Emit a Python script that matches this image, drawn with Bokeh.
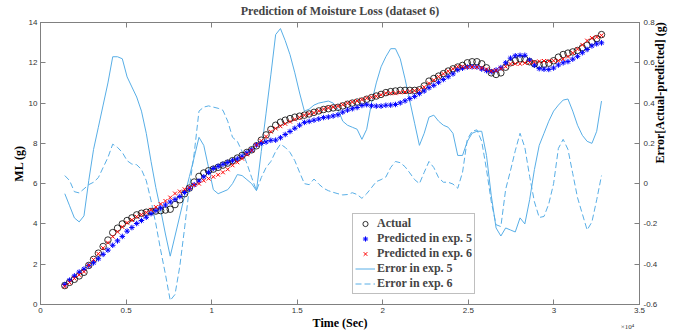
import numpy as np
from bokeh.plotting import figure
from bokeh.models import (Range1d, LinearAxis, FixedTicker, Legend, LegendItem,
                          CustomLabelingPolicy)
from bokeh.embed import file_html
from bokeh.resources import INLINE

# ---------------- data ----------------
time_s = list(range(1420, 32781, 280))  # sampling grid (s)

actual = [0.94, 1.10, 1.25, 1.42, 1.60, 1.94, 2.24, 2.55, 2.88, 3.20,
          3.57, 3.79, 4.00, 4.17, 4.30, 4.45, 4.53, 4.58, 4.62, 4.64,
          4.66, 4.69, 4.73, 4.96, 5.20, 5.50, 5.78, 6.08, 6.36, 6.53,
          6.64, 6.72, 6.81, 6.92, 7.02, 7.14, 7.27, 7.40, 7.55, 7.68,
          7.88, 8.16, 8.42, 8.69, 8.90, 9.05, 9.15, 9.23, 9.30, 9.35,
          9.40, 9.46, 9.54, 9.61, 9.68, 9.72, 9.76, 9.79, 9.86, 9.94,
          10.00, 10.05, 10.10, 10.19, 10.27, 10.35, 10.43, 10.52, 10.57, 10.60,
          10.63, 10.63, 10.63, 10.63, 10.66, 10.85, 11.09, 11.22, 11.34, 11.46,
          11.59, 11.70, 11.79, 11.87, 12.00, 12.05, 12.05, 11.95, 11.75, 11.50,
          11.42, 11.50, 11.78, 12.00, 12.11, 12.20, 12.17, 12.05, 11.95, 11.90,
          11.93, 11.98, 12.10, 12.28, 12.41, 12.48, 12.54, 12.61, 12.74, 12.87,
          13.04, 13.20, 13.40]

pred_exp5 = [0.99, 1.21, 1.42, 1.61, 1.76, 1.93, 2.07, 2.27, 2.49, 2.70,
             2.94, 3.16, 3.38, 3.64, 3.82, 4.02, 4.17, 4.33, 4.51, 4.66,
             4.79, 4.94, 5.09, 5.22, 5.36, 5.56, 5.75, 5.95, 6.13, 6.34,
             6.56, 6.75, 6.86, 6.96, 7.05, 7.14, 7.23, 7.36, 7.53, 7.68,
             7.92, 8.00, 8.07, 8.15, 8.16, 8.28, 8.44, 8.59, 8.75, 8.90,
             9.04, 9.09, 9.15, 9.21, 9.28, 9.31, 9.36, 9.42, 9.55, 9.65,
             9.72, 9.78, 9.88, 9.92, 9.87, 9.85, 9.85, 9.89, 9.90, 9.93,
             10.01, 10.11, 10.22, 10.33, 10.47, 10.60, 10.76, 10.88, 11.03, 11.17,
             11.31, 11.45, 11.65, 11.73, 11.79, 11.80, 11.79, 11.69, 11.61, 11.56,
             11.64, 11.76, 12.00, 12.23, 12.35, 12.37, 12.37, 12.13, 11.88, 11.71,
             11.68, 11.67, 11.74, 11.89, 12.00, 12.06, 12.18, 12.32, 12.50, 12.66,
             12.84, 12.94, 12.99]

pred_exp6 = [0.90, 1.09, 1.29, 1.47, 1.63, 1.95, 2.23, 2.52, 2.80, 3.07,
             3.37, 3.61, 3.85, 4.06, 4.20, 4.36, 4.46, 4.57, 4.70, 4.84,
             4.99, 5.14, 5.31, 5.51, 5.61, 5.72, 5.80, 5.93, 6.00, 6.15,
             6.25, 6.34, 6.44, 6.56, 6.71, 6.91, 7.06, 7.24, 7.45, 7.65,
             7.92, 8.13, 8.34, 8.58, 8.74, 8.85, 8.97, 9.08, 9.19, 9.29,
             9.40, 9.47, 9.52, 9.61, 9.70, 9.76, 9.80, 9.84, 9.92, 9.99,
             10.05, 10.10, 10.17, 10.24, 10.29, 10.34, 10.41, 10.49, 10.49, 10.49,
             10.53, 10.55, 10.58, 10.61, 10.66, 10.79, 10.98, 11.14, 11.31, 11.45,
             11.58, 11.70, 11.81, 11.81, 11.78, 11.79, 11.78, 11.74, 11.68, 11.59,
             11.62, 11.71, 11.81, 11.94, 11.95, 11.95, 11.99, 12.01, 12.04, 12.07,
             12.09, 12.08, 12.10, 12.10, 12.19, 12.31, 12.49, 12.68, 12.89, 13.10,
             13.23, 13.28, 13.36]

error_exp5 = [-0.05, -0.11, -0.17, -0.19, -0.16, 0.015, 0.17, 0.28, 0.39, 0.50,
              0.63, 0.63, 0.62, 0.53, 0.48, 0.43, 0.36, 0.25, 0.11, -0.02,
              -0.13, -0.25, -0.36, -0.26, -0.16, -0.06, 0.035, 0.13, 0.23, 0.19,
              0.08, -0.03, -0.05, -0.04, -0.03, 0.0, 0.045, 0.04, 0.02, 0.0,
              -0.035, 0.16, 0.35, 0.54, 0.74, 0.77, 0.71, 0.64, 0.55, 0.45,
              0.36, 0.37, 0.39, 0.40, 0.405, 0.41, 0.40, 0.37, 0.31, 0.29,
              0.28, 0.27, 0.22, 0.27, 0.40, 0.50, 0.58, 0.63, 0.67, 0.67,
              0.62, 0.52, 0.41, 0.30, 0.19, 0.25, 0.33, 0.34, 0.31, 0.29,
              0.28, 0.25, 0.14, 0.14, 0.21, 0.25, 0.26, 0.26, 0.14, -0.06,
              -0.22, -0.26, -0.22, -0.23, -0.24, -0.17, -0.20, -0.08, 0.07, 0.19,
              0.25, 0.31, 0.36, 0.39, 0.415, 0.42, 0.36, 0.29, 0.24, 0.21,
              0.20, 0.26, 0.41]

error_exp6 = [0.04, 0.015, -0.04, -0.046, -0.026, -0.005, 0.007, 0.03, 0.08, 0.13,
              0.196, 0.18, 0.155, 0.114, 0.097, 0.094, 0.07, 0.015, -0.084, -0.20,
              -0.33, -0.45, -0.58, -0.55, -0.41, -0.22, -0.02, 0.15, 0.36, 0.38,
              0.386, 0.38, 0.374, 0.364, 0.31, 0.23, 0.21, 0.16, 0.10, 0.03,
              -0.035, 0.03, 0.08, 0.11, 0.16, 0.196, 0.18, 0.155, 0.114, 0.056,
              0.0, -0.005, 0.023, -0.002, -0.023, -0.035, -0.043, -0.05, -0.056, -0.054,
              -0.045, -0.054, -0.073, -0.05, -0.02, 0.01, 0.02, 0.033, 0.08, 0.11,
              0.104, 0.084, 0.053, 0.02, 0.0, 0.056, 0.11, 0.08, 0.03, 0.007,
              0.007, -0.002, -0.023, 0.056, 0.22, 0.26, 0.267, 0.21, 0.07, -0.09,
              -0.204, -0.213, -0.028, 0.064, 0.163, 0.25, 0.18, 0.036, -0.09, -0.168,
              -0.163, -0.10, 0.0, 0.175, 0.22, 0.17, 0.05, -0.07, -0.15, -0.23,
              -0.19, -0.08, 0.04]

x_ticks = [0, 5000, 10000, 15000, 20000, 25000, 30000, 35000]
x_tick_labels = ["0", "0.5", "1", "1.5", "2", "2.5", "3", "3.5"]
ml_ticks = [0, 2, 4, 6, 8, 10, 12, 14]
err_ticks = [-0.6, -0.4, -0.2, 0, 0.2, 0.4, 0.6, 0.8]
err_tick_labels = ["-0.6", "-0.4", "-0.2", "0", "0.2", "0.4", "0.6", "0.8"]
x_exponent = "\u00d710\u2074"

# ---------------- styling ----------------
SERIF = "Liberation Serif"
SANS = "Liberation Sans"
AXIS_GRAY = "#808080"
TICK_TEXT = "#333333"
ERR_BLUE = "#58aee6"

X_END = 35000
p = figure(width=681, height=333, output_backend="svg", toolbar_location=None,
           x_range=Range1d(0, X_END), y_range=Range1d(0, 14),
           min_border_left=40, min_border_right=42, min_border_top=21,
           min_border_bottom=29)
p.extra_y_ranges = {"err": Range1d(-0.6, 0.8)}

p.title.text = "Prediction of Moisture Loss (dataset 6)"
p.title.align = "center"
p.title.text_font = SERIF
p.title.text_font_style = "bold"
p.title.text_font_size = "12px"
p.title.standoff = 2
p.title.offset = 0

p.xgrid.visible = False
p.ygrid.visible = False
p.outline_line_color = AXIS_GRAY
p.outline_line_width = 1
p.background_fill_color = "white"
p.border_fill_color = "white"

# bottom axis
xa = p.xaxis[0]
xa.ticker = FixedTicker(ticks=x_ticks)
xa.major_label_overrides = dict(zip(x_ticks, x_tick_labels))
xa.axis_label = "Time (Sec)"
xa.axis_label_standoff = 0
xa.major_label_standoff = 3

# left axis
ya = p.yaxis[0]
ya.ticker = FixedTicker(ticks=ml_ticks)
ya.axis_label = "ML (g)"
ya.axis_label_standoff = 0
ya.major_label_standoff = 3

# top axis: inward ticks only, its labels are filtered out
top_axis = LinearAxis(ticker=FixedTicker(ticks=x_ticks),
                      major_label_text_font_size="1px", major_label_standoff=0,
                      major_label_policy=CustomLabelingPolicy(
                          code="for (const i of indices) indices.unset(i)"))
p.add_layout(top_axis, "above")

# right axis
right_axis = LinearAxis(y_range_name="err", ticker=FixedTicker(ticks=err_ticks))
right_axis.major_label_overrides = dict(zip(err_ticks, err_tick_labels))
right_axis.major_label_standoff = 4
right_axis.axis_label = "Error[Actual-predicted] (g)"
right_axis.axis_label_standoff = 0
if "axis_label_orientation" in right_axis.properties():
    right_axis.axis_label_orientation = float(np.pi / 2)
p.add_layout(right_axis, "right")

for ax in [xa, ya, top_axis, right_axis]:
    ax.major_tick_in = 5
    ax.major_tick_out = 0
    ax.minor_tick_line_color = None
    ax.axis_line_color = AXIS_GRAY
    ax.major_tick_line_color = AXIS_GRAY
    ax.major_label_text_font = SANS
    ax.axis_label_text_font = SERIF
    ax.axis_label_text_font_style = "bold"
    ax.axis_label_text_font_size = "12px"
    ax.axis_label_text_color = "black"
for ax in [xa, ya, right_axis]:
    ax.major_label_text_font_size = "8px"
    ax.major_label_text_color = TICK_TEXT

# x exponent under the right end of the x axis (overlay level: not clipped)
p.text(x=[X_END], y=[0], text=[x_exponent], x_offset=-12, y_offset=22,
       text_align="center", text_baseline="middle", text_font=SANS,
       text_font_size="7px", text_color=TICK_TEXT, level="overlay")

# ---------------- glyphs ----------------
r_e5 = p.line(time_s, error_exp5, y_range_name="err", line_color=ERR_BLUE,
              line_width=1)
r_e6 = p.line(time_s, error_exp6, y_range_name="err", line_color=ERR_BLUE,
              line_width=1, line_dash="6 3")
r_act = p.scatter(time_s, actual, marker="circle", size=6.5, fill_color=None,
                  line_color="black", line_width=0.8)
r_p5 = p.scatter(time_s, pred_exp5, marker="asterisk", size=5.5,
                 line_color="#0000ff", line_width=1)
r_p6 = p.scatter(time_s, pred_exp6, marker="x", size=5.5, line_color="#ff0000",
                 line_width=1)

legend = Legend(items=[
    LegendItem(label="Actual", renderers=[r_act]),
    LegendItem(label="Predicted in exp. 5", renderers=[r_p5]),
    LegendItem(label="Predicted in exp. 6", renderers=[r_p6]),
    LegendItem(label="Error in exp. 5", renderers=[r_e5]),
    LegendItem(label="Error in exp. 6", renderers=[r_e6]),
], location=(312, 10))
legend.label_text_font = SERIF
legend.label_text_font_style = "bold"
legend.label_text_font_size = "12px"
legend.label_text_line_height = 1.0
legend.glyph_width = 20
legend.glyph_height = 13
legend.label_height = 13
legend.label_standoff = 2
legend.padding = 2
legend.spacing = -1
legend.margin = 0
legend.border_line_color = "#808080"
legend.border_line_width = 1
legend.background_fill_color = "white"
legend.background_fill_alpha = 1
p.add_layout(legend)

open("out.html", "w").write(file_html(p, INLINE))
